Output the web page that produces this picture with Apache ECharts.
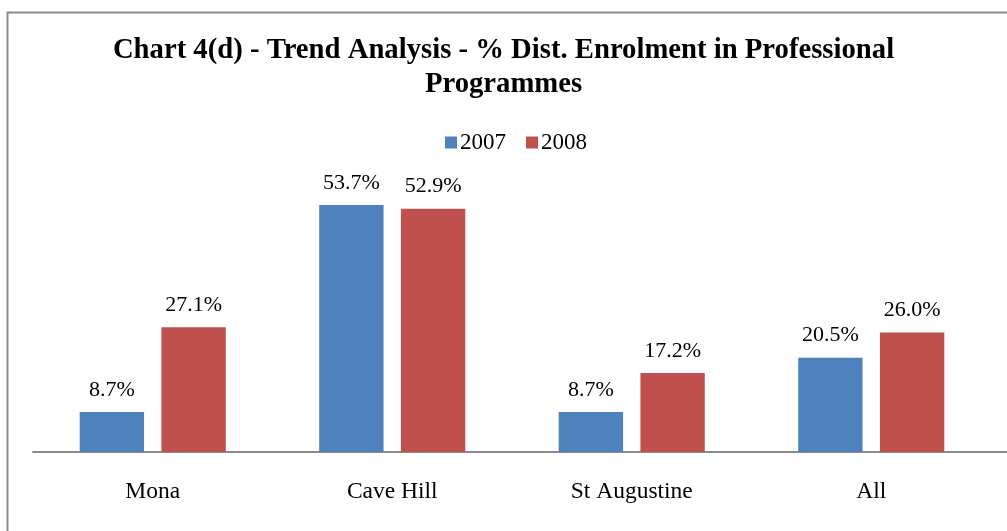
<!DOCTYPE html>
<html>
<head>
<meta charset="utf-8">
<script src="https://cdn.jsdelivr.net/npm/echarts@6/dist/echarts.min.js"></script>
<style>
  html, body { margin: 0; padding: 0; background: #fff; }
  #main { width: 1007px; height: 531px; }
</style>
</head>
<body>
<div id="main"></div>
<script>
// campus categories and yearly shares (%)
var campuses = ['Mona', 'Cave Hill', 'St Augustine', 'All'];
var share2007 = [8.7, 53.7, 8.7, 20.5];
var share2008 = [27.1, 52.9, 17.2, 26.0];

var serif = '"Liberation Serif", "DejaVu Serif", serif';

var myChart = echarts.init(document.getElementById('main'));

var labelStyle = {
    show: true,
    position: 'top',
    distance: 11,
    fontFamily: serif,
    fontSize: 22,
    color: '#000',
    formatter: function (p) { return p.value.toFixed(1) + '%'; }
};

var option = {
    backgroundColor: '#fff',
    animation: false,
    graphic: [{
        type: 'rect',
        left: 5, top: 10,
        shape: { width: 1020, height: 540 },
        style: { fill: 'none', stroke: '#8c8c8c', lineWidth: 2 }
    }, {
        // axis line runs on to the right edge
        type: 'line',
        shape: { x1: 990, y1: 452, x2: 1007, y2: 452 },
        style: { stroke: '#8c8c8c', lineWidth: 2 }
    }],
    title: {
        text: 'Chart 4(d) - Trend Analysis - % Dist. Enrolment in Professional\nProgrammes',
        left: 'center',
        top: 29,
        textStyle: {
            fontFamily: serif,
            fontWeight: 'bold',
            fontSize: 28.7,
            lineHeight: 34,
            color: '#000'
        }
    },
    legend: {
        top: 126,
        left: 440,
        itemWidth: 12,
        itemHeight: 12,
        itemGap: 20,
        icon: 'rect',
        textStyle: { fontFamily: serif, fontSize: 23, color: '#000', padding: [0, 0, 0, -2] },
        data: ['2007', '2008']
    },
    grid: { left: 33, right: 16, top: 176, bottom: 79 },
    xAxis: {
        type: 'category',
        data: campuses,
        axisLine: { lineStyle: { color: '#8c8c8c', width: 2 } },
        axisTick: { show: false },
        axisLabel: { fontFamily: serif, fontSize: 23.5, color: '#000', margin: 28 }
    },
    yAxis: {
        type: 'value',
        min: 0,
        max: 60,
        show: false,
        splitLine: { show: false }
    },
    series: [
        {
            name: '2007',
            type: 'bar',
            data: share2007,
            barGap: '27%',
            barCategoryGap: '39%',
            itemStyle: { color: '#4f81bd' },
            label: labelStyle
        },
        {
            name: '2008',
            type: 'bar',
            data: share2008,
            itemStyle: { color: '#c0504d' },
            label: labelStyle
        }
    ]
};

myChart.setOption(option);
</script>
</body>
</html>
